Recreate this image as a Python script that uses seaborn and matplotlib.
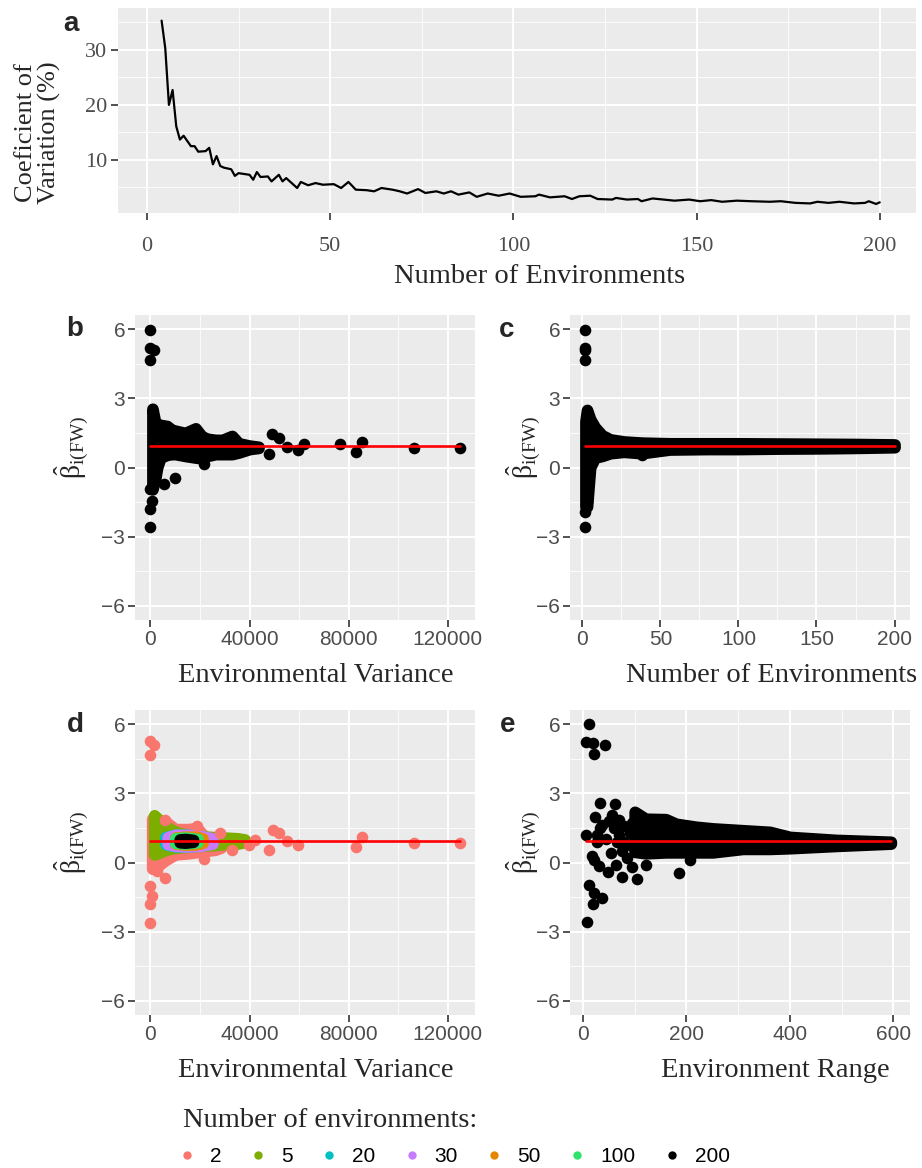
import numpy as np
import pandas as pd
import matplotlib
matplotlib.use("Agg")
import matplotlib.pyplot as plt
import seaborn as sns
from matplotlib.lines import Line2D
from matplotlib.ticker import MultipleLocator, FixedLocator

# ------------------------------------------------------------------ data
# (a) coefficient of variation vs number of environments
cv_n = [4, 5, 6, 7, 8, 9, 10, 12, 13, 14, 16, 17, 18, 19, 20, 21, 23, 24, 25,
        28, 29, 30, 31, 33, 34, 36, 37, 38, 41, 42, 44, 46, 48, 51, 53, 55, 57,
        60, 62, 64, 67, 69, 71, 74, 76, 79, 81, 83, 85, 88, 90, 93, 96, 99,
        102, 106, 107, 110, 114, 116, 118, 121, 123, 127, 128, 131, 134, 135,
        138, 141, 144, 148, 151, 154, 157, 161, 165, 170, 173, 177, 181, 183,
        186, 189, 193, 196, 197, 199, 200]
cv_val = [35.3, 30.3, 20.0, 22.7, 16.1, 13.7, 14.4, 12.5, 12.5, 11.5, 11.6, 12.2,
          9.2, 10.7, 8.9, 8.6, 8.3, 7.1, 7.6, 7.3, 6.4, 7.8, 6.9, 7.0, 6.1, 7.3,
          6.1, 6.7, 4.9, 6.0, 5.4, 5.8, 5.5, 5.6, 4.9, 6.0, 4.6, 4.5, 4.3, 4.9,
          4.6, 4.3, 3.9, 4.7, 4.0, 4.3, 3.9, 4.3, 3.7, 4.1, 3.3, 3.9, 3.5, 3.9,
          3.3, 3.4, 3.7, 3.2, 3.4, 2.9, 3.4, 3.5, 2.9, 2.8, 3.1, 2.8, 2.9, 2.5,
          3.0, 2.8, 2.6, 2.8, 2.5, 2.7, 2.4, 2.6, 2.5, 2.4, 2.5, 2.2, 2.1, 2.4,
          2.2, 2.4, 2.1, 2.2, 2.5, 2.0, 2.3]

beta_mean = 0.94

# (b) beta vs environmental variance: dense core (band) + individual points
b_core_x = [800, 2000, 2700, 4000, 6700, 8700, 10000, 14000, 18200, 20800, 23000,
            26200, 29000, 32900, 35600, 40000, 43600]
b_core_hi = [2.55, 1.9, 1.9, 1.85, 1.8, 1.63, 1.6, 1.5, 1.7, 1.34, 1.25, 1.2, 1.2,
             1.37, 1.05, 0.95, 0.9]
b_core_lo = [-0.95, -0.44, 0.0, 0.43, 0.55, 0.58, 0.58, 0.5, 0.43, 0.4, 0.5, 0.58,
             0.58, 0.58, 0.65, 0.8, 0.85]
b_pts_x = [0, 0, 1340, 0, 0, 0, 600, 0, 10000, 5400, 21500, 47700, 49100, 51800,
           55000, 59400, 61800, 76600, 83000, 85300, 106500, 124700]
b_pts_y = [5.96, 5.2, 5.09, 4.65, -2.6, -1.8, -1.44, -0.93, -0.45, -0.71, 0.16,
           0.6, 1.46, 1.3, 0.91, 0.74, 1.0, 1.0, 0.67, 1.09, 0.84, 0.84]

# (c) beta vs number of environments
c_core_x = [2, 3, 5, 8, 12.6, 17.9, 26.5, 38, 56, 80, 100, 125, 150, 175, 200]
c_core_hi = [2.0, 2.5, 2.1, 1.75, 1.4, 1.22, 1.13, 1.08, 1.05, 1.05, 1.05, 1.04,
             1.03, 1.02, 1.0]
c_core_lo = [-1.7, -1.7, 0.0, 0.43, 0.5, 0.62, 0.68, 0.62, 0.78, 0.8, 0.8, 0.82,
             0.83, 0.85, 0.88]
c_pts_x = [2, 2, 2, 2, 2, 2, 3, 38]
c_pts_y = [5.96, 5.2, 5.09, 4.65, -2.6, -1.95, -1.5, 0.55]

# (d) beta vs environmental variance, coloured by number of environments
n_levels = ["2", "5", "20", "30", "50", "100", "200"]
n_colors = ["#F8766D", "#7CAE00", "#00BFC4", "#C77CFF", "#E58700", "#2EE36A", "#000000"]
d_core_x = {
    "2":   [700, 3000, 6000, 10000, 15400, 18800, 22000, 26000, 28500],
    "5":   [1500, 3000, 5000, 8000, 11000, 15000, 20000, 25000, 30000, 35000, 38000],
    "20":  [6000, 10000, 15000, 20000, 24000],
    "30":  [7000, 10000, 15000, 20000, 25000],
    "50":  [10000, 14000, 18000, 21000],
    "100": [10000, 14000, 19000],
    "200": [11800, 14000, 17200],
}
d_core_hi = {
    "2":   [1.9, 1.8, 1.78, 1.45, 1.45, 1.5, 1.1, 1.1, 1.05],
    "5":   [2.05, 1.9, 1.7, 1.45, 1.3, 1.2, 1.15, 1.1, 1.08, 1.05, 1.0],
    "20":  [1.1, 1.2, 1.2, 1.15, 1.05],
    "30":  [1.1, 1.2, 1.2, 1.15, 1.05],
    "50":  [1.08, 1.12, 1.12, 1.05],
    "100": [1.05, 1.08, 1.02],
    "200": [1.0, 1.02, 0.98],
}
d_core_lo = {
    "2":   [-0.27, -0.15, 0.1, 0.35, 0.4, 0.45, 0.5, 0.55, 0.65],
    "5":   [0.35, 0.4, 0.5, 0.6, 0.65, 0.68, 0.72, 0.75, 0.8, 0.82, 0.88],
    "20":  [0.8, 0.7, 0.7, 0.75, 0.85],
    "30":  [0.8, 0.72, 0.7, 0.72, 0.82],
    "50":  [0.82, 0.78, 0.78, 0.85],
    "100": [0.85, 0.82, 0.88],
    "200": [0.88, 0.86, 0.9],
}
d_pts_x = [0, 1340, 0, 0, 0, 700, 0, 5770, 21500, 28200, 32900, 39600, 42300, 47700,
           49400, 51900, 55100, 59400, 83000, 85300, 106500, 124700, 6000, 18800,
           2000, 2700]
d_pts_y = [5.27, 5.12, 4.68, -2.61, -1.78, -1.44, -1.0, -0.69, 0.16, 1.28, 0.53,
           0.77, 0.96, 0.55, 1.43, 1.26, 0.92, 0.74, 0.67, 1.11, 0.85, 0.85, 1.85,
           1.6, -0.3, -0.35]

# (e) beta vs environment range
e_core_x = [100, 121, 160, 180, 219, 251, 309, 361, 400, 490, 595]
e_core_hi = [2.2, 1.9, 1.88, 1.68, 1.55, 1.48, 1.4, 1.33, 1.11, 0.98, 0.9]
e_core_lo = [0.46, 0.4, 0.44, 0.44, 0.44, 0.44, 0.59, 0.59, 0.62, 0.72, 0.82]
e_pts_x = [11.7, 5.2, 19.4, 42.7, 21.4, 32.4, 62.1, 23.3, 57, 37.5, 69.9, 6.5,
           27.8, 18.1, 21.4, 31.1, 49.2, 76.4, 103.6, 94.5, 63.4, 185, 11.7, 21.4,
           37.5, 19.4, 8.4, 206, 121, 60, 70, 80, 90, 75, 85, 55, 45, 95, 65, 50,
           80, 100, 33, 28, 90]
e_pts_y = [6.0, 5.24, 5.2, 5.09, 4.72, 2.57, 2.53, 1.96, 2.06, 1.62, 1.84, 1.18,
           0.89, 0.3, 0.12, -0.17, -0.42, -0.64, -0.71, -0.21, -0.13, -0.45, -0.96,
           -1.34, -1.55, -1.81, -2.6, 0.1, -0.1, 1.5, 1.2, 0.9, 1.3, 0.5, 0.2, 0.4,
           1.0, 1.7, 0.9, 1.8, 1.6, 0.5, 1.5, 1.2, 0.75]

# ------------------------------------------------------------------ style
W, H = 922, 1168
sns.set_theme(style="darkgrid", rc={
    "axes.facecolor": "#EBEBEB",
    "grid.color": "white",
    "axes.edgecolor": "#EBEBEB",
})
plt.rcParams["font.family"] = ["Liberation Serif", "DejaVu Serif"]
plt.rcParams["mathtext.fontset"] = "custom"
plt.rcParams["mathtext.rm"] = "Liberation Serif"
plt.rcParams["mathtext.it"] = "Liberation Serif:italic"
plt.rcParams["axes.unicode_minus"] = True

SERIF = "Liberation Serif"
SANS = "Liberation Sans"
TITLE_FS = 20.5
TICK_GREY = "#4D4D4D"
MS = 70          # marker area (pt^2)
MD = 8.4         # marker diameter (pt)

fig = plt.figure(figsize=(W / 100, H / 100), dpi=100)


def box(l, t, r, b):
    return [l / W, 1 - b / H, (r - l) / W, (b - t) / H]


def style_axis(ax, font, fs):
    ax.grid(which="major", color="white", lw=1.4)
    ax.grid(which="minor", color="white", lw=0.6)
    ax.tick_params(which="major", direction="out", length=5, width=1.2,
                   color="#333333", bottom=True, left=True, pad=2,
                   labelcolor=TICK_GREY, labelsize=fs)
    ax.tick_params(which="minor", length=0)
    for lab in ax.get_xticklabels() + ax.get_yticklabels():
        lab.set_fontfamily(font)
    for s in ax.spines.values():
        s.set_visible(False)
    ax.set_xlabel("")
    ax.set_ylabel("")


def band(ax, x, lo, hi, color):
    ax.fill_between(x, lo, hi, facecolor=color, edgecolor=color, linewidth=MD,
                    joinstyle="round", capstyle="round", zorder=2)


def points(ax, x, y, color):
    sns.scatterplot(x=x, y=y, color=color, s=MS, linewidth=0, ax=ax, zorder=3,
                    legend=False)


def ref_line(ax, x):
    sns.lineplot(x=[min(x), max(x)], y=[beta_mean, beta_mean], color="#FF0000",
                 lw=1.9, ax=ax, zorder=5)


def beta_axis(ax):
    ax.set_ylim(-6.62, 6.62)
    ax.yaxis.set_major_locator(FixedLocator([-6, -3, 0, 3, 6]))
    ax.yaxis.set_minor_locator(FixedLocator([-4.5, -1.5, 1.5, 4.5]))


# ---------------- (a)
ax_a = fig.add_axes(box(118, 8, 916, 213))
sns.lineplot(x=cv_n, y=cv_val, color="black", lw=1.6, ax=ax_a)
ax_a.set_xlim(-7.9, 209.9)
ax_a.set_ylim(0.36, 37.6)
ax_a.xaxis.set_major_locator(MultipleLocator(50))
ax_a.xaxis.set_minor_locator(FixedLocator([25, 75, 125, 175]))
ax_a.yaxis.set_major_locator(FixedLocator([10, 20, 30]))
ax_a.yaxis.set_minor_locator(FixedLocator([5, 15, 25, 35]))
style_axis(ax_a, SERIF, 16)
ax_a.tick_params(axis="x", pad=12)
ax_a.tick_params(axis="y", pad=3)

# ---------------- (b)
ax_b = fig.add_axes(box(135, 315, 475, 620))
band(ax_b, b_core_x, b_core_lo, b_core_hi, "black")
points(ax_b, b_pts_x, b_pts_y, "black")
ref_line(ax_b, b_pts_x)
ax_b.set_xlim(-6235, 130935)
ax_b.xaxis.set_major_locator(FixedLocator([0, 40000, 80000, 120000]))
ax_b.xaxis.set_minor_locator(FixedLocator([20000, 60000, 100000]))
ax_b.xaxis.set_major_formatter(matplotlib.ticker.FuncFormatter(lambda v, p: f"{int(v)}"))
beta_axis(ax_b)
style_axis(ax_b, SANS, 15)

# ---------------- (c)
ax_c = fig.add_axes(box(570, 315, 910, 620))
band(ax_c, c_core_x, c_core_lo, c_core_hi, "black")
points(ax_c, c_pts_x, c_pts_y, "black")
ref_line(ax_c, c_core_x)
ax_c.set_xlim(-7.9, 209.9)
ax_c.xaxis.set_major_locator(MultipleLocator(50))
ax_c.xaxis.set_minor_locator(FixedLocator([25, 75, 125, 175]))
beta_axis(ax_c)
style_axis(ax_c, SANS, 15)

# ---------------- (d)
ax_d = fig.add_axes(box(135, 710, 475, 1015))
for lev, col in zip(n_levels, n_colors):
    band(ax_d, d_core_x[lev], d_core_lo[lev], d_core_hi[lev], col)
    if lev == "2":
        points(ax_d, d_pts_x, d_pts_y, col)
ref_line(ax_d, d_pts_x)
ax_d.set_xlim(-6235, 130935)
ax_d.xaxis.set_major_locator(FixedLocator([0, 40000, 80000, 120000]))
ax_d.xaxis.set_minor_locator(FixedLocator([20000, 60000, 100000]))
ax_d.xaxis.set_major_formatter(matplotlib.ticker.FuncFormatter(lambda v, p: f"{int(v)}"))
beta_axis(ax_d)
style_axis(ax_d, SANS, 15)

# ---------------- (e)
ax_e = fig.add_axes(box(570, 710, 910, 1015))
band(ax_e, e_core_x, e_core_lo, e_core_hi, "black")
points(ax_e, e_pts_x, e_pts_y, "black")
ref_line(ax_e, e_pts_x + e_core_x)
ax_e.set_xlim(-25, 632)
ax_e.xaxis.set_major_locator(FixedLocator([0, 200, 400, 600]))
ax_e.xaxis.set_minor_locator(FixedLocator([100, 300, 500]))
beta_axis(ax_e)
style_axis(ax_e, SANS, 15)


# ---------------- texts
def ftext(x, y, s, **kw):
    fig.text(x / W, 1 - y / H, s, **kw)


ftext(71, 24, "a", fontfamily=SANS, fontweight="bold", fontsize=20, ha="center", va="center")
ftext(75, 329, "b", fontfamily=SANS, fontweight="bold", fontsize=20, ha="center", va="center")
ftext(507, 330, "c", fontfamily=SANS, fontweight="bold", fontsize=20, ha="center", va="center")
ftext(75, 725, "d", fontfamily=SANS, fontweight="bold", fontsize=20, ha="center", va="center")
ftext(508, 725, "e", fontfamily=SANS, fontweight="bold", fontsize=20, ha="center", va="center")

ftext(38, 133, "Coeficient of\nVariation (%)", fontfamily=SERIF, fontsize=19,
      rotation=90, ha="center", va="center", linespacing=1.05)
ftext(540, 283, "Number of Environments", fontfamily=SERIF, fontsize=TITLE_FS,
      ha="center", va="baseline")
ftext(316, 682, "Environmental Variance", fontfamily=SERIF, fontsize=TITLE_FS,
      ha="center", va="baseline")
ftext(772, 682, "Number of Environments", fontfamily=SERIF, fontsize=TITLE_FS,
      ha="center", va="baseline")
ftext(316, 1077, "Environmental Variance", fontfamily=SERIF, fontsize=TITLE_FS,
      ha="center", va="baseline")
ftext(775, 1077, "Environment Range", fontfamily=SERIF, fontsize=TITLE_FS,
      ha="center", va="baseline")

beta_lab = r"$\hat{\mathrm{\beta}}_{\mathrm{i(FW)}}$"
for (bx, by) in [(72, 447), (524, 447), (72, 842), (524, 842)]:
    ftext(bx, by, beta_lab, fontsize=20, rotation=90, ha="center", va="center")

# legend
ftext(183, 1127, "Number of environments:", fontfamily=SERIF, fontsize=TITLE_FS,
      ha="left", va="baseline")
handles = [Line2D([0], [0], marker="o", ls="", markersize=6, markerfacecolor=c,
                  markeredgewidth=0, label=l) for l, c in zip(n_levels, n_colors)]
leg = fig.legend(handles=handles, ncol=7, frameon=False, loc="center left",
                 bbox_to_anchor=(158 / W, 1 - 1157 / H), handletextpad=0.6,
                 columnspacing=1.25, handlelength=1.0,
                 prop={"family": SANS, "size": 15})
for t in leg.get_texts():
    t.set_color("black")

fig.savefig("out.png", dpi=100)
